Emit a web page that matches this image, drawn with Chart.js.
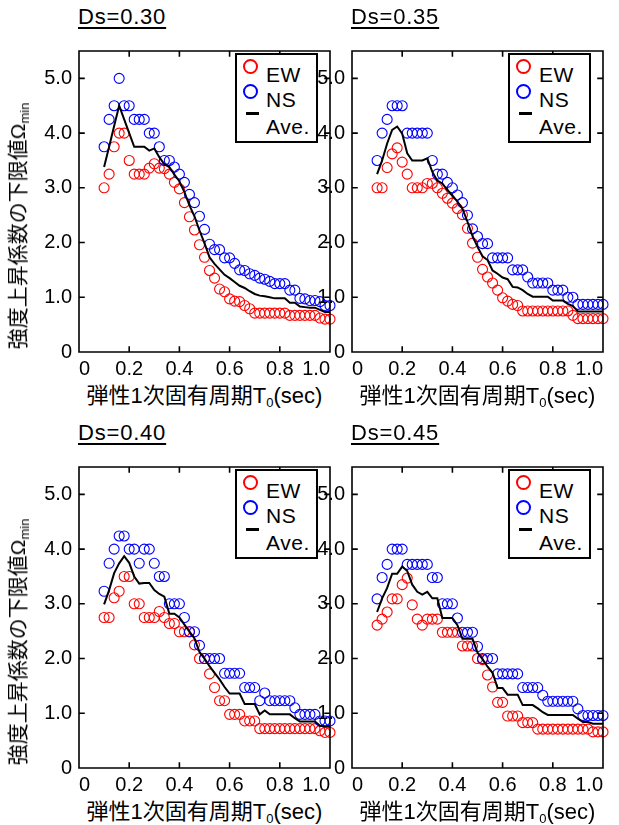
<!DOCTYPE html>
<html>
<head>
<meta charset="utf-8">
<script src="https://cdn.jsdelivr.net/npm/chart.js@4.4.0/dist/chart.umd.min.js"></script>
<style>
  body { margin: 0; background: #fff; }
  #page {
    position: relative; width: 619px; height: 825px; overflow: hidden;
    font-family: "Liberation Sans", Arial, "Noto Sans CJK JP", sans-serif; color: #000;
  }
  canvas { position: absolute; }
  .title {
    position: absolute; font-size: 22px; line-height: 22px; letter-spacing: 0.8px; white-space: nowrap;
    text-decoration: underline; text-decoration-thickness: 2px; text-underline-offset: 3px;
  }
  .xtitle { position: absolute; width: 251px; text-align: center; font-size: 22px; line-height: 24px; white-space: nowrap; }
  .xtitle sub, .ytitle sub { font-size: 13px; vertical-align: -4px; line-height: 0; }
  .ytitle {
    position: absolute; font-size: 21px; line-height: 24px; white-space: nowrap;
    transform: translate(-50%, -50%) rotate(-90deg);
  }
  .legend { position: absolute; width: 79px; height: 86px; border: 2px solid #000; background: #fff; z-index: 2; }
  .legend .mark { position: absolute; left: 6px; width: 11px; height: 11px; border-radius: 50%; border: 2.5px solid; }
  .legend .bar { position: absolute; left: 9px; width: 13px; height: 3px; background: #000; }
  .legend .lbl { position: absolute; left: 29px; font-size: 21px; line-height: 24px; letter-spacing: 0.6px; }
</style>
</head>
<body>
<div id="page"></div>
<script>
// natural period T0 (sec)
const periods = [
  0.10, 0.12, 0.14, 0.16, 0.18, 0.20, 0.22, 0.24, 0.26, 0.28,
  0.30, 0.32, 0.34, 0.36, 0.38, 0.40, 0.42, 0.44, 0.46, 0.48,
  0.50, 0.52, 0.54, 0.56, 0.58, 0.60, 0.62, 0.64, 0.66, 0.68,
  0.70, 0.72, 0.74, 0.76, 0.78, 0.80, 0.82, 0.84, 0.86, 0.88,
  0.90, 0.92, 0.94, 0.96, 0.98, 1.00,
];

const panelTitles = ["Ds=0.30", "Ds=0.35", "Ds=0.40", "Ds=0.45"];
const xTickLabels = ["0", "0.2", "0.4", "0.6", "0.8", "1.0"];
const yTickLabels = ["0", "1.0", "2.0", "3.0", "4.0", "5.0"];

// Ds=0.30
const ew030 = [
  3.0, 3.25, 3.75, 4.0, 4.0, 3.5, 3.25, 3.25, 3.25, 3.36,
  3.44, 3.36, 3.35, 3.25, 3.1, 2.98, 2.73, 2.47, 2.23, 1.96,
  1.73, 1.49, 1.35, 1.15, 1.1, 0.97, 0.93, 0.92, 0.85, 0.79,
  0.71, 0.71, 0.71, 0.71, 0.71, 0.71, 0.71, 0.67, 0.67, 0.67,
  0.67, 0.67, 0.67, 0.62, 0.6, 0.6,
];
const ns030 = [
  3.75, 4.25, 4.5, 5.0, 4.5, 4.5, 4.25, 4.25, 4.25, 4.0,
  4.0, 3.75, 3.5, 3.5, 3.38, 3.25, 3.1, 2.88, 2.73, 2.48,
  2.24, 1.97, 1.87, 1.87, 1.72, 1.72, 1.62, 1.5, 1.49, 1.43,
  1.4, 1.35, 1.33, 1.29, 1.25, 1.25, 1.25, 1.13, 1.13, 0.98,
  0.97, 0.94, 0.94, 0.92, 0.85, 0.85,
];
const ave030 = [
  3.38, 3.75, 4.13, 4.5, 4.25, 4.0, 3.75, 3.75, 3.75, 3.68,
  3.72, 3.56, 3.43, 3.38, 3.24, 3.12, 2.92, 2.68, 2.48, 2.22,
  1.99, 1.73, 1.61, 1.51, 1.41, 1.35, 1.28, 1.21, 1.17, 1.11,
  1.06, 1.03, 1.02, 1.0, 0.98, 0.98, 0.98, 0.9, 0.9, 0.83,
  0.82, 0.81, 0.81, 0.77, 0.73, 0.73,
];

// Ds=0.35
const ew035 = [
  3.0, 3.0, 3.37, 3.62, 3.73, 3.47, 3.25, 3.0, 3.0, 3.0,
  3.08, 3.08, 3.0, 2.9, 2.81, 2.72, 2.62, 2.51, 2.26, 1.99,
  1.73, 1.51, 1.37, 1.26, 1.13, 0.99, 0.93, 0.87, 0.85, 0.75,
  0.75, 0.75, 0.75, 0.75, 0.75, 0.75, 0.75, 0.75, 0.75, 0.67,
  0.61, 0.61, 0.61, 0.61, 0.61, 0.61,
];
const ns035 = [
  3.5, 4.0, 4.25, 4.5, 4.5, 4.5, 4.0, 4.0, 4.0, 4.0,
  4.0, 3.5, 3.25, 3.25, 3.1, 3.0, 2.87, 2.73, 2.5, 2.25,
  2.11, 1.98, 1.98, 1.72, 1.72, 1.72, 1.72, 1.5, 1.5, 1.5,
  1.37, 1.26, 1.26, 1.26, 1.26, 1.13, 1.13, 1.13, 1.0, 1.0,
  0.87, 0.87, 0.87, 0.87, 0.87, 0.87,
];
const ave035 = [
  3.25, 3.5, 3.81, 4.06, 4.12, 3.99, 3.63, 3.5, 3.5, 3.5,
  3.54, 3.29, 3.13, 3.08, 2.96, 2.86, 2.75, 2.62, 2.38, 2.12,
  1.92, 1.75, 1.68, 1.49, 1.43, 1.36, 1.33, 1.19, 1.18, 1.13,
  1.06, 1.01, 1.01, 1.01, 1.01, 0.94, 0.94, 0.94, 0.88, 0.84,
  0.74, 0.74, 0.74, 0.74, 0.74, 0.74,
];

// Ds=0.40
const ew040 = [
  2.75, 2.75, 3.11, 3.23, 3.5, 3.5, 3.0, 3.0, 2.75, 2.75,
  2.75, 2.86, 2.75, 2.64, 2.64, 2.49, 2.49, 2.49, 2.25, 2.0,
  2.0, 1.72, 1.47, 1.23, 1.23, 0.98, 0.98, 0.98, 0.86, 0.86,
  0.86, 0.72, 0.72, 0.72, 0.72, 0.72, 0.72, 0.72, 0.72, 0.72,
  0.72, 0.72, 0.72, 0.68, 0.65, 0.65,
];
const ns040 = [
  3.23, 3.74, 4.0, 4.24, 4.24, 4.0, 4.0, 3.74, 4.0, 4.0,
  3.74, 3.5, 3.5, 3.0, 3.0, 3.0, 2.75, 2.49, 2.49, 2.24,
  2.0, 2.0, 2.0, 2.0, 1.73, 1.73, 1.73, 1.73, 1.47, 1.47,
  1.47, 1.23, 1.37, 1.23, 1.23, 1.23, 1.23, 1.23, 1.1, 0.98,
  0.98, 0.98, 0.98, 0.86, 0.86, 0.86,
];
const ave040 = [
  2.99, 3.25, 3.56, 3.74, 3.87, 3.75, 3.5, 3.37, 3.38, 3.38,
  3.25, 3.18, 3.13, 2.82, 2.82, 2.75, 2.62, 2.49, 2.37, 2.12,
  2.0, 1.86, 1.74, 1.62, 1.48, 1.36, 1.36, 1.36, 1.17, 1.17,
  1.17, 0.98, 1.05, 0.98, 0.98, 0.98, 0.98, 0.98, 0.91, 0.85,
  0.85, 0.85, 0.85, 0.77, 0.76, 0.76,
];

// Ds=0.45
const ew045 = [
  2.61, 2.72, 2.85, 3.09, 3.09, 3.35, 3.47, 2.98, 2.72, 2.61,
  2.72, 2.72, 2.72, 2.48, 2.48, 2.48, 2.48, 2.23, 2.23, 2.23,
  2.0, 1.98, 1.7, 1.48, 1.2, 1.2, 0.95, 0.95, 0.95, 0.83,
  0.83, 0.83, 0.71, 0.71, 0.71, 0.71, 0.71, 0.71, 0.71, 0.71,
  0.71, 0.71, 0.71, 0.66, 0.66, 0.66,
];
const ns045 = [
  3.09, 3.48, 3.72, 4.0, 4.0, 4.0, 3.72, 3.72, 3.72, 3.72,
  3.72, 3.48, 3.48, 3.0, 3.0, 3.0, 2.74, 2.48, 2.48, 2.48,
  2.22, 2.0, 2.0, 2.0, 1.72, 1.72, 1.72, 1.72, 1.72, 1.47,
  1.47, 1.47, 1.47, 1.33, 1.22, 1.22, 1.22, 1.22, 1.22, 1.22,
  1.08, 0.96, 0.96, 0.96, 0.96, 0.96,
];
const ave045 = [
  2.85, 3.1, 3.29, 3.55, 3.55, 3.68, 3.6, 3.35, 3.22, 3.17,
  3.22, 3.1, 3.1, 2.74, 2.74, 2.74, 2.61, 2.36, 2.36, 2.36,
  2.11, 1.99, 1.85, 1.74, 1.46, 1.46, 1.34, 1.34, 1.34, 1.15,
  1.15, 1.15, 1.09, 1.02, 0.97, 0.97, 0.97, 0.97, 0.97, 0.97,
  0.9, 0.84, 0.84, 0.81, 0.81, 0.81,
];

const panelSeries = [
  { ew: ew030, ns: ns030, ave: ave030 },
  { ew: ew035, ns: ns035, ave: ave035 },
  { ew: ew040, ns: ns040, ave: ave040 },
  { ew: ew045, ns: ns045, ave: ave045 },
];

// plot area (left, top) of each panel on the page
const PLOT_W = 251;
const PLOT_H = 310;
const panelBoxes = [
  { left: 79, top: 42 },
  { left: 352, top: 42 },
  { left: 79, top: 458 },
  { left: 352, top: 458 },
];
const Y_AXIS_W = 60;
const X_AXIS_H = 30;
const PAD = 10;
const TICK_LEN = 5;
const FRAME_W = 1.6;

Chart.defaults.font.family = '"Liberation Sans", Arial, sans-serif';
Chart.defaults.color = "#000";

// box around plot area with inward ticks on all four sides
const framePlugin = {
  id: "frame",
  afterDraw(chart) {
    const ctx = chart.ctx;
    const a = chart.chartArea;
    const xs = chart.scales.x;
    const ys = chart.scales.y;
    ctx.save();
    ctx.strokeStyle = "#000000";
    ctx.lineWidth = FRAME_W;
    ctx.lineCap = "square";
    ctx.beginPath();
    ctx.rect(a.left, a.top, a.right - a.left, a.bottom - a.top);
    xTickLabels.forEach((_, k) => {
      if (k === 0 || k === xTickLabels.length - 1) return;
      const px = xs.getPixelForValue(k * 0.2);
      ctx.moveTo(px, a.bottom);
      ctx.lineTo(px, a.bottom - TICK_LEN);
      ctx.moveTo(px, a.top);
      ctx.lineTo(px, a.top + TICK_LEN);
    });
    yTickLabels.forEach((_, k) => {
      if (k === 0) return;
      const py = ys.getPixelForValue(k);
      ctx.moveTo(a.left, py);
      ctx.lineTo(a.left + TICK_LEN, py);
      ctx.moveTo(a.right, py);
      ctx.lineTo(a.right - TICK_LEN, py);
    });
    ctx.stroke();
    ctx.restore();
  },
};

function toPoints(values) {
  return values.map((v, i) => ({ x: periods[i], y: v }));
}

function createDatasets(series) {
  return [
    {
      label: "EW",
      data: toPoints(series.ew),
      borderColor: "#ff0000",
      backgroundColor: "rgba(0,0,0,0)",
      pointRadius: 5,
      pointHoverRadius: 5,
      pointBorderWidth: 1.1,
      clip: false,
      order: 2,
    },
    {
      label: "NS",
      data: toPoints(series.ns),
      borderColor: "#0000ff",
      backgroundColor: "rgba(0,0,0,0)",
      pointRadius: 5,
      pointHoverRadius: 5,
      pointBorderWidth: 1.1,
      clip: false,
      order: 1,
    },
    {
      label: "Ave.",
      data: toPoints(series.ave),
      showLine: true,
      borderColor: "#000",
      borderWidth: 2,
      pointRadius: 0,
      tension: 0,
      order: 0,
    },
  ];
}

function createScales() {
  return {
    x: {
      type: "linear",
      min: 0,
      max: 1,
      grid: { display: false, drawTicks: false },
      border: { display: false },
      ticks: {
        stepSize: 0.2,
        align: "inner",
        padding: 5,
        maxRotation: 0,
        autoSkip: false,
        font: { size: 20 },
        callback: (v) => xTickLabels[Math.round(v * 5)],
      },
      afterFit(scale) {
        scale.height = X_AXIS_H;
      },
    },
    y: {
      type: "linear",
      min: 0,
      max: 5.5,
      grid: { display: false, drawTicks: false },
      border: { display: false },
      ticks: {
        stepSize: 1,
        includeBounds: false,
        padding: 7,
        font: { size: 20 },
        callback: (v) => yTickLabels[Math.round(v)],
      },
      afterFit(scale) {
        scale.width = Y_AXIS_W;
      },
    },
  };
}

function addText(page, cls, html, style) {
  const el = document.createElement("div");
  el.className = cls;
  el.innerHTML = html;
  Object.assign(el.style, style);
  page.appendChild(el);
  return el;
}

function addLegend(page, box) {
  const lg = document.createElement("div");
  lg.className = "legend";
  lg.style.left = box.left + PLOT_W - 95 + "px";
  lg.style.top = box.top + 11 + "px";
  lg.innerHTML =
    '<div class="mark" style="top:4px;border-color:#ff0000"></div>' +
    '<div class="lbl" style="top:8px">EW</div>' +
    '<div class="mark" style="top:29px;border-color:#0000ff"></div>' +
    '<div class="lbl" style="top:33px">NS</div>' +
    '<div class="bar" style="top:57px"></div>' +
    '<div class="lbl" style="top:60px">Ave.</div>';
  page.appendChild(lg);
}

function createPanel(page, i) {
  const box = panelBoxes[i];
  const canvas = document.createElement("canvas");
  canvas.width = Y_AXIS_W + PLOT_W + PAD;
  canvas.height = PAD + PLOT_H + X_AXIS_H;
  canvas.style.left = box.left - Y_AXIS_W + "px";
  canvas.style.top = box.top - PAD + "px";
  page.appendChild(canvas);

  new Chart(canvas.getContext("2d"), {
    type: "scatter",
    data: { datasets: createDatasets(panelSeries[i]) },
    options: {
      responsive: false,
      animation: false,
      devicePixelRatio: 1,
      layout: { padding: { top: PAD, right: PAD, left: 0, bottom: 0 } },
      scales: createScales(),
      plugins: { legend: { display: false }, tooltip: { enabled: false } },
    },
    plugins: [framePlugin],
  });

  addText(page, "title", panelTitles[i], {
    left: box.left - 1 + "px",
    top: box.top - 36 + "px",
  });
  addText(page, "xtitle", "弾性1次固有周期T<sub>0</sub>(sec)", {
    left: box.left + "px",
    top: box.top + PLOT_H + 32 + "px",
  });
  if (box.left < 200) {
    addText(page, "ytitle", "強度上昇係数の下限値Ω<sub>min</sub>", {
      left: "18px",
      top: box.top + 184 + "px",
    });
  }
  addLegend(page, box);
}

const page = document.getElementById("page");
panelBoxes.forEach((_, i) => createPanel(page, i));
</script>
</body>
</html>
